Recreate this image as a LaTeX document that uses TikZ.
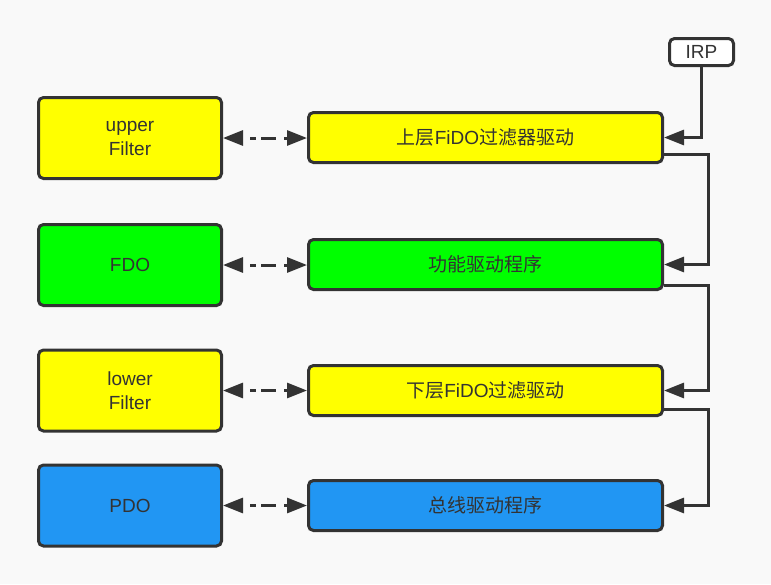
\documentclass[tikz,border=0pt]{standalone}
\usepackage{fontspec}
\setmainfont{Liberation Sans}
\newfontfamily\cjk{Noto Sans CJK SC}
\usetikzlibrary{arrows.meta}
\definecolor{bg}{HTML}{F9F9F9}
\definecolor{ink}{HTML}{333333}
\definecolor{ylw}{HTML}{FFFF00}
\definecolor{grn}{HTML}{00FF00}
\definecolor{blu}{HTML}{2196F3}
\tikzset{
  box/.style={draw=ink, line width=3pt, rounded corners=5pt, text=ink,
    font=\fontsize{19pt}{24pt}\selectfont, align=center, inner sep=0pt},
  leftbox/.style={box, minimum width=183pt, minimum height=81pt},
  rightbox/.style={box, minimum width=354pt, minimum height=50pt},
  conn/.style={draw=ink, line width=3pt, -{Triangle[length=20pt,width=15pt]}},
  dasharrow/.style={draw=ink, line width=3pt,
    {Triangle[length=20pt,width=15pt]}-{Triangle[length=20pt,width=15pt]},
    dash pattern=on 6pt off 5pt on 15pt off 8pt, dash phase=26pt}
}
\begin{document}
\begin{tikzpicture}[x=1pt,y=-1pt]
\useasboundingbox (0,0) rectangle (771,584);
\fill[bg] (0,0) rectangle (771,584);
% left boxes
\node[leftbox, fill=ylw] (l1) at (130,138) {upper\\Filter};
\node[leftbox, fill=grn] (l2) at (130,265) {FDO};
\node[leftbox, fill=ylw] (l3) at (130,390.5) {lower\\Filter};
\node[leftbox, fill=blu] (l4) at (130,505.5) {PDO};
% right boxes
\node[rightbox, fill=ylw] (r1) at (485.5,137.5) {{\cjk 上层}FiDO{\cjk 过滤器驱动}};
\node[rightbox, fill=grn] (r2) at (485.5,264.5) {{\cjk 功能驱动程序}};
\node[rightbox, fill=ylw] (r3) at (485.5,390.5) {{\cjk 下层}FiDO{\cjk 过滤驱动}};
\node[rightbox, fill=blu] (r4) at (485.5,505.5) {{\cjk 总线驱动程序}};
% IRP
\node[box, fill=white, minimum width=64pt, minimum height=27pt] (irp) at (701.5,52) {IRP};
% chain
\draw[conn] (irp.south) |- (r1.east);
\draw[conn] ([yshift=-17pt]r1.east) -- ++(44,0) |- (r2.east);
\draw[conn] ([yshift=-20.5pt]r2.east) -- ++(44,0) |- (r3.east);
\draw[conn] ([yshift=-18.5pt]r3.east) -- ++(44,0) |- (r4.east);
% dashed links
\draw[dasharrow] (l1.east) -- (l1.east -| r1.west);
\draw[dasharrow] (l2.east) -- (l2.east -| r2.west);
\draw[dasharrow] (l3.east) -- (l3.east -| r3.west);
\draw[dasharrow] (l4.east) -- (l4.east -| r4.west);
\end{tikzpicture}
\end{document}
